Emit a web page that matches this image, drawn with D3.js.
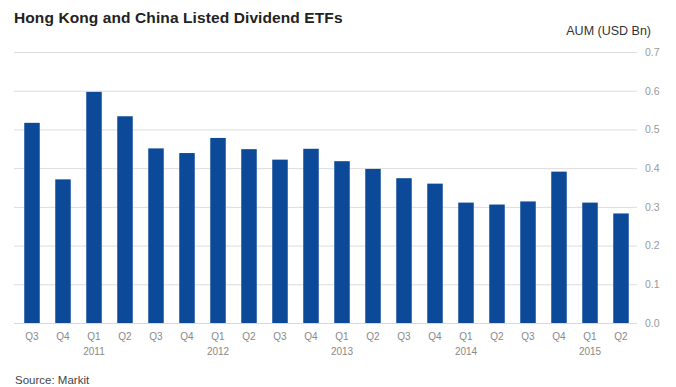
<!DOCTYPE html>
<html><head><meta charset="utf-8">
<script src="https://cdn.jsdelivr.net/npm/d3@7"></script>
<style>body{margin:0;background:#fff}svg{display:block}</style>
</head><body>
<svg id="c" width="676" height="387"></svg>
<script>
const quarters = ["Q3","Q4","Q1","Q2","Q3","Q4","Q1","Q2","Q3","Q4","Q1","Q2","Q3","Q4","Q1","Q2","Q3","Q4","Q1","Q2"];
const years = ["","","2011","","","","2012","","","","2013","","","","2014","","","","2015",""];
const aum = [0.517,0.371,0.597,0.534,0.451,0.439,0.478,0.449,0.422,0.450,0.418,0.398,0.374,0.360,0.311,0.306,0.314,0.391,0.311,0.283];
const yTicks = [0,0.1,0.2,0.3,0.4,0.5,0.6,0.7];

const svg = d3.select("#c");
const font = "'Liberation Sans', Arial, sans-serif";
const idx = d3.range(aum.length);
const x = d3.scaleBand().domain(idx).range([16.5, 636.5]).paddingInner(0.5).paddingOuter(0.25);
const y = d3.scaleLinear().domain([0, 0.7]).range([323, 52]);

// gridlines
svg.append("g").selectAll("line").data(yTicks.filter(d=>d>0)).join("line")
  .attr("x1", 14).attr("x2", 637)
  .attr("y1", d=>y(d)+0.5).attr("y2", d=>y(d)+0.5)
  .attr("stroke", "#dcdcdc").attr("stroke-width", 1);

// right axis labels
const ya = d3.axisRight(y).tickValues(yTicks).tickFormat(d3.format(".1f")).tickSize(0).tickPadding(0);
const gy = svg.append("g").attr("transform", "translate(645,0)").call(ya);
gy.select(".domain").remove();
gy.selectAll("text").attr("font-family", font).attr("font-size", 10.5).attr("fill", "#999");

// bars
svg.append("g").selectAll("rect").data(aum).join("rect")
  .attr("x", (d,i)=>x(i)).attr("width", x.bandwidth())
  .attr("y", d=>y(d)).attr("height", d=>y(0)-y(d))
  .attr("fill", "#0c4a99");

// baseline
svg.append("line").attr("x1", 14).attr("x2", 637).attr("y1", y(0)+0.5).attr("y2", y(0)+0.5)
  .attr("stroke", "#d8d8d8");

// x labels
const xa = d3.axisBottom(x).tickFormat(i=>quarters[i]).tickSize(0).tickPadding(0);
const gx = svg.append("g").attr("transform", "translate(0,333)").call(xa);
gx.select(".domain").remove();
gx.selectAll("text").attr("font-family", font).attr("font-size", 10).attr("fill", "#888");
gx.selectAll(".tick").append("text").text(i=>years[i])
  .attr("y", 14.5).attr("dy", "0.71em").attr("text-anchor", "middle")
  .attr("font-family", font).attr("font-size", 10).attr("fill", "#888");

// title & labels
svg.append("text").attr("x", 14).attr("y", 23).text("Hong Kong and China Listed Dividend ETFs")
  .attr("font-family", font).attr("font-weight", "bold").attr("font-size", 15.5).attr("fill", "#222")
  .attr("letter-spacing", 0.1);
svg.append("text").attr("x", 651).attr("y", 35).attr("text-anchor", "end").text("AUM (USD Bn)")
  .attr("font-family", font).attr("font-size", 12.5).attr("fill", "#333");
svg.append("text").attr("x", 15).attr("y", 384).text("Source: Markit")
  .attr("font-family", font).attr("font-size", 11.5).attr("fill", "#444");
</script>
</body></html>
